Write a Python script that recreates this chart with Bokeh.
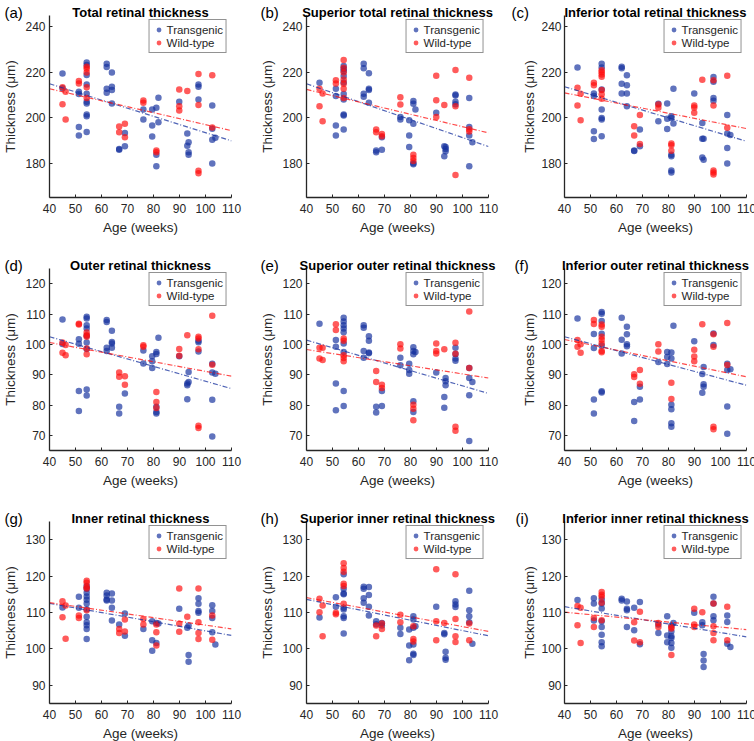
from bokeh.plotting import figure
from bokeh.layouts import column, row
from bokeh.models import Label, ColumnDataSource
from bokeh.embed import file_html
from bokeh.resources import INLINE

AGE_TICKS = [40, 50, 60, 70, 80, 90, 100, 110]
YTICKS_TOTAL = [180, 200, 220, 240]
YTICKS_OUTER = [70, 80, 90, 100, 110, 120]
YTICKS_INNER = [90, 100, 110, 120, 130]

TITLES = ["Total retinal thickness", "Superior total retinal thickness", "Inferior total retinal thickness",
          "Outer retinal thickness", "Superior outer retinal thickness", "Inferior outer retinal thickness",
          "Inner retinal thickness", "Superior inner retinal thickness", "Inferior inner retinal thickness"]
LETTERS = ["(a)", "(b)", "(c)", "(d)", "(e)", "(f)", "(g)", "(h)", "(i)"]

# (age in weeks, thickness in um)
tg_a = [(45,219.5),(45,213),(51.3,211.5),(51.3,210.5),(51.3,196),(51.3,192.2),
        (54.3,224.3),(54.3,223.2),(54.3,218.8),(54.3,214.7),(54.3,210.6),(54.3,207.1),(54.3,206.3),(54.3,201.5),(54.3,200.7),(54.3,193.8),
        (62,223.8),(62,222.4),(62,212.8),(62,211),(64,219.9),(64,213.7),(64,212.2),(64,206.3),
        (66.8,186.3),(66.8,186),(69,193.4),(69,187.5),(76.1,203.7),(76.1,199.3),
        (79.5,203.7),(79.5,196.6),(79.5,191.8),(81.1,204.4),(81.1,183.8),(81.1,178.7),(81.9,208.8),(81.9,198.1),
        (89.9,207.1),(93,193.1),(93,187.8),(93.5,189.3),(93.5,184.9),(93.5,183.8),
        (97.3,214.7),(97.3,213.7),(97.3,208.1),(102.6,205.4),(102.6,195.2),(102.6,190.4),(102.6,180),(103.8,191.3)]
wt_a = [(45,213.5),(45,206),(46.2,211.5),(46.2,199.3),(51.3,216.2),(51.3,215.1),
        (54.3,222.5),(54.3,221.6),(54.3,219.9),(54.3,213.5),(54.3,208.7),
        (66.8,196.2),(66.8,193.7),(69,197.4),(69,191.5),(76.1,207.6),(76.1,206.6),
        (81.1,185.7),(81.1,184.9),(89.9,212.5),(89.9,205.1),(89.9,203.2),(93,211.8),
        (97.3,219.3),(97.3,205.7),(97.3,176.8),(97.3,175.7),(102.6,218.7),(102.6,195.8)]

tg_b = [(45,215.4),(51.3,212.8),(51.3,209.6),(51.3,196.6),(51.3,192.2),
        (54.3,222.8),(54.3,221.5),(54.3,220.6),(54.3,218.4),(54.3,215.5),(54.3,210.5),(54.3,208.1),(54.3,201.5),(54.3,201),(54.3,194.9),
        (62,223.8),(62,221.8),(62,210.6),(62,209.3),(64,219.6),(64,212.8),(64,212.2),(64,206.6),
        (66.8,185.7),(66.8,184.9),(69,191.5),(69,186),(76.1,200.4),(76.1,199.3),
        (79.5,199),(79.5,192.2),(79.5,187.2),(81.1,207.4),(81.1,206.2),(81.1,197.4),(81.1,180.1),(81.1,179.6),(81.9,203.7),
        (89.9,202.2),(93,187.5),(93,183.1),(93.5,187.2),(93.5,186.3),(93.5,185.3),
        (97.3,210.3),(97.3,209.8),(97.3,207.1),(97.3,206),(102.6,208.7),(102.6,196),(102.6,192.2),(102.6,178.7),(103.8,189.3)]
wt_b = [(45,212.8),(45,205.1),(46.2,210.7),(46.2,198.5),(51.3,216.5),(51.3,215.1),
        (54.3,225.4),(54.3,222),(54.3,219.9),(54.3,216.9),(54.3,215),(54.3,212.8),(54.3,208.7),
        (66.8,194.9),(66.8,193.7),(69,192.9),(69,191.9),(76.1,209.1),(76.1,205.9),
        (81.1,183.8),(81.1,182.4),(81.1,181),(89.9,218.5),(89.9,207.8),(89.9,200.4),(93,205.7),
        (97.3,221),(97.3,205.1),(97.3,174.9),(102.6,217.6),(102.6,195),(102.6,194)]

tg_c = [(45,222.1),(51.3,210.7),(51.3,209.6),(51.3,194.1),(51.3,190.7),
        (54.3,223.8),(54.3,222.1),(54.3,212.5),(54.3,203.7),(54.3,200),(54.3,199.3),(54.3,191.9),
        (62,222.5),(62,221.8),(62,215),(62,210.7),(64,218.7),(64,214.3),(64,210.7),(64,205.1),
        (66.8,185.7),(66.8,185.4),(69,194.9),(69,187.5),(76.1,206.2),(76.1,198.5),
        (79.5,206.3),(79.5,199.6),(79.5,195.1),(81.1,200.7),(81.1,200),(81.1,183.8),(81.1,183.1),(81.1,176.9),(81.1,176),
        (81.9,212.8),(81.9,197.5),(89.9,210.7),(93,197.8),(93,190.8),(93,182.6),(93.5,190.8),(93.5,181.6),
        (97.3,218),(97.3,215.9),(97.3,208.7),(97.3,207.5),(102.6,201.3),(102.6,193.1),(102.6,186.8),(102.6,179.9),(103.8,192.5)]
wt_c = [(45,213.2),(45,205.4),(46.2,210.6),(46.2,199),(51.3,215.4),(51.3,214.3),
        (54.3,220.9),(54.3,220.1),(54.3,219.1),(54.3,218.1),(54.3,212.2),(54.3,210.4),(54.3,208.4),
        (66.8,196.3),(66.8,192.2),(69,201.3),(69,188.5),(76.1,205.9),(76.1,204.4),
        (81.1,188.7),(81.1,188),(81.1,185.6),(89.9,205.4),(89.9,204.6),(89.9,202.2),(93,216.8),
        (97.3,216.5),(97.3,205.4),(97.3,176.9),(97.3,176),(97.3,175.1),(102.6,218.5),(102.6,195.7)]

tg_d = [(45,108.2),(45,100.1),(51.3,101.7),(51.3,100.2),(51.3,84.6),(51.3,78),
        (54.3,109.1),(54.3,108.5),(54.3,106.3),(54.3,105.2),(54.3,102.8),(54.3,100.6),(54.3,98.5),(54.3,85.1),(54.3,83.1),
        (62,108),(62,107.4),(62,98.9),(62,97.8),(64,104.5),(64,100.8),(64,100.3),(64,98.9),
        (66.8,79.4),(66.8,77.2),(69,83.8),(76.1,98),(76.1,93.7),
        (79.5,96.1),(79.5,94.4),(79.5,92.2),(81.1,97.5),(81.1,96.8),(81.1,79.4),(81.1,77.7),(81.1,77.2),(81.9,102.2),
        (89.9,96.1),(93,87.1),(93,86.5),(93,81.9),(93.5,90.9),(93.5,87.6),
        (97.3,101.2),(97.3,100.7),(97.3,97.6),(102.6,93.6),(102.6,90.7),(102.6,81.7),(102.6,69.6),(103.8,90.3)]
wt_d = [(45,100.6),(45,97.2),(46.2,99.8),(46.2,96.4),(51.3,106.8),(51.3,106.5),
        (54.3,103.9),(54.3,103),(54.3,102.5),(54.3,98.6),(54.3,96.7),
        (66.8,90.7),(66.8,89.3),(69,89.5),(69,86.7),(76.1,99.7),(76.1,99.2),
        (81.1,84.3),(81.1,81),(81.1,79),(89.9,98.5),(89.9,96.2),(93,103),
        (97.3,102.5),(97.3,101.9),(97.3,98.4),(97.3,73.2),(97.3,72.4),(102.6,109.4),(102.6,93.3)]

tg_e = [(45,106.8),(51.3,101.4),(51.3,99.2),(51.3,87.1),(51.3,78.3),
        (54.3,108.8),(54.3,107.5),(54.3,106.3),(54.3,105.2),(54.3,104),(54.3,100.3),(54.3,97.5),(54.3,84.6),(54.3,79.7),
        (62,106.3),(62,105.5),(62,97.8),(62,95.6),(64,102.7),(64,101.2),(64,97.3),(64,97.1),
        (66.8,79.4),(66.8,77.5),(69,84.6),(69,79.7),(76.1,95.6),(76.1,93.1),
        (79.5,93.6),(79.5,91.5),(79.5,90.3),(81.1,99),(81.1,97.8),(81.1,96.7),(81.1,81.2),(81.1,77.7),(81.9,97.5),
        (89.9,90.7),(93,82.6),(93,79.1),(93.5,88.9),(93.5,87.8),(93.5,86.5),
        (97.3,98.9),(97.3,96.8),(97.3,95.3),(97.3,94.6),(102.6,92.2),(102.6,88.9),(102.6,83.2),(102.6,68.1),(103.8,87.6)]
wt_e = [(45,98.9),(45,95.3),(46.2,98.9),(46.2,94.8),(51.3,106.6),(51.3,104.7),
        (54.3,101.9),(54.3,101.2),(54.3,96.4),(54.3,95.5),(54.3,94.4),
        (66.8,91.2),(66.8,87.6),(69,86.7),(69,85.6),(76.1,100),(76.1,98.6),
        (81.1,80.1),(81.1,78.8),(81.1,75),(89.9,100.3),(89.9,97.8),(89.9,97),(93,98.4),
        (97.3,100.5),(97.3,96.9),(97.3,72.8),(97.3,71.5),(102.6,110.8),(102.6,92.2)]

tg_f = [(45,108.5),(51.3,103.4),(51.3,98.8),(51.3,81.8),(51.3,77.2),
        (54.3,110.7),(54.3,110.1),(54.3,107.7),(54.3,103.5),(54.3,99.5),(54.3,84.5),(54.3,84.1),
        (62,108.8),(62,101.5),(62,97),(64,105.8),(64,103.3),(64,100),(64,99.4),
        (66.8,81),(66.8,74.7),(69,86),(69,81.8),(76.1,94.2),
        (79.5,97.5),(79.5,95.8),(79.5,93.5),(81.1,97.3),(81.1,95.3),(81.1,80.1),(81.1,78.6),(81.1,74),(81.1,72.8),(81.9,106.1),
        (89.9,101),(93,90.2),(93,84),(93.5,92.5),(93.5,86.8),(93.5,86),
        (97.3,103.6),(97.3,99.8),(102.6,93.6),(102.6,91.5),(102.6,79.5),(102.6,70.5),(103.8,91.8)]
wt_f = [(45,101.4),(45,99.2),(46.2,100),(46.2,97.2),(51.3,108),(51.3,106.7),
        (54.3,106.5),(54.3,105.8),(54.3,102.5),(54.3,101.5),(54.3,100.3),(54.3,97.8),(54.3,97.4),
        (66.8,90.1),(66.8,89.2),(69,91.5),(69,87),(76.1,100),(76.1,97.6),
        (81.1,87.3),(81.1,82),(89.9,98.2),(89.9,96),(89.9,94.4),(93,106.6),
        (97.3,103.3),(97.3,99.2),(97.3,72.8),(97.3,72),(102.6,107),(102.6,93.2)]

tg_g = [(45,111.4),(51.3,114.3),(51.3,111.3),
        (54.3,117.3),(54.3,116.5),(54.3,115.4),(54.3,114.4),(54.3,113.5),(54.3,112.5),(54.3,110.9),(54.3,108.8),(54.3,107.3),(54.3,106.5),(54.3,105.5),(54.3,102.7),
        (62,115.4),(62,114.7),(62,113.6),(62,113.3),(64,115.2),(64,113.3),(64,111.3),(64,107.8),
        (66.8,106.7),(69,109.7),(69,103.6),(76.1,105.5),
        (79.5,107.6),(79.5,102.4),(79.5,99.5),(81.1,107.1),(81.1,101.6),(81.9,107),
        (89.9,111),(93,105.8),(93.5,106.4),(93.5,98.3),(93.5,96.5),
        (97.3,113.9),(97.3,112.4),(97.3,110.4),(97.3,109.9),(102.6,112),(102.6,110.4),(102.6,108.5),(102.6,104.6),(103.8,101.2)]
wt_g = [(45,113.1),(45,108.7),(46.2,111.9),(46.2,102.8),(51.3,109.2),(51.3,108.5),
        (54.3,118.7),(54.3,118.2),(54.3,117),(54.3,116.6),(54.3,110.6),
        (66.8,105.5),(66.8,104.4),(69,108.1),(69,104.8),(76.1,108.2),(76.1,106.7),
        (81.1,106.7),(81.1,104.6),(81.1,100.9),(89.9,116.6),(89.9,106.9),(89.9,104.7),(93,108.8),
        (97.3,116.6),(97.3,107.3),(97.3,104.4),(97.3,102.7),(102.6,109.2),(102.6,102.5)]

tg_h = [(45,108.6),(51.3,114.2),(51.3,111.6),
        (54.3,120.5),(54.3,116.5),(54.3,115.2),(54.3,115),(54.3,111.3),(54.3,110.8),(54.3,109),(54.3,108.5),(54.3,104.2),
        (62,117.1),(62,116.5),(62,113.9),(62,112.7),(64,117),(64,114.8),(64,111.6),(64,109.2),
        (66.8,107.6),(66.8,106.8),(69,107.1),(69,106.4),(76.1,105.8),(76.1,104.1),
        (79.5,105.3),(79.5,100.9),(79.5,96.9),(81.1,109),(81.1,108.1),(81.1,105.8),(81.1,101.2),(81.1,98.7),(81.1,98.3),(81.9,106.2),
        (89.9,111.6),(93,104.4),(93,104),(93.5,99.2),(93.5,97.6),(93.5,97),
        (97.3,113.1),(97.3,112.2),(97.3,111.5),(102.6,116),(102.6,110.6),(102.6,109),(102.6,107.3),(103.8,101.4)]
wt_h = [(45,113.8),(45,110.1),(46.2,111.9),(46.2,103.5),(51.3,109.9),(51.3,109.5),
        (54.3,123.5),(54.3,122.2),(54.3,121.2),(54.3,117.9),(54.3,117.3),(54.3,112.4),
        (66.8,106.4),(66.8,103.5),(69,107),(69,105.5),(76.1,109.4),(76.1,107.3),
        (81.1,106.2),(81.1,102.7),(81.1,102),(89.9,121.9),(89.9,107.6),(89.9,102.4),(93,107.1),
        (97.3,120.5),(97.3,108.2),(97.3,103.5),(97.3,101.9),(102.6,107),(102.6,102.4)]

tg_i = [(45,113.4),(51.3,113.9),(51.3,112.5),(51.3,107.8),
        (54.3,113.6),(54.3,112.5),(54.3,111.1),(54.3,107.6),(54.3,106),(54.3,103.9),(54.3,101.8),(54.3,100.7),
        (62,113.8),(62,113.3),(64,113),(64,111),(64,110.6),(64,106),
        (66.8,111.3),(66.8,105.1),(69,112.9),(69,101.3),(76.1,106.7),(76.1,104.4),
        (79.5,109),(79.5,103.7),(79.5,101.8),(81.1,106.4),(81.1,104.8),(81.1,103.5),(81.1,103),(81.1,101.6),(81.1,100.3),(81.9,107.1),
        (89.9,109.9),(93,107.3),(93,106.5),(93.5,98.6),(93.5,96.8),(93.5,95),
        (97.3,114.3),(97.3,112.5),(97.3,109),(97.3,107.9),(102.6,109.2),(102.6,107.4),(102.6,101.4),(103.8,100.5)]
wt_i = [(45,111.8),(45,106.5),(46.2,111.3),(46.2,101.6),(51.3,108.5),(51.3,106),
        (54.3,115.6),(54.3,114.9),(54.3,114.3),(54.3,112.7),(54.3,107.9),
        (66.8,107.3),(66.8,102.3),(69,110.2),(69,101.8),(76.1,107.1),(76.1,106),
        (81.1,106),(81.1,105.6),(81.1,98.3),(89.9,111),(89.9,106.7),(89.9,106),(93,110.1),
        (97.3,112.5),(97.3,106.2),(97.3,104.4),(97.3,102.4),(102.6,111.6),(102.6,102.4)]

# fitted trend lines read at age 40 and 110
LINE_AGES = [40, 110]
tg_fit = [(215.0, 189.9), (215.0, 187.4), (213.7, 189.7),
          (102.5, 85.4), (101.4, 83.8), (102.5, 86.5),
          (112.5, 103.7), (113.6, 103.6), (111.6, 103.3)]
wt_fit = [(212.8, 194.4), (212.5, 193.4), (211.0, 195.3),
          (100.6, 89.5), (98.3, 88.9), (101.6, 89.3),
          (112.7, 105.5), (114.1, 104.8), (110.1, 105.3)]

TG_DATA = [tg_a, tg_b, tg_c, tg_d, tg_e, tg_f, tg_g, tg_h, tg_i]
WT_DATA = [wt_a, wt_b, wt_c, wt_d, wt_e, wt_f, wt_g, wt_h, wt_i]
Y_RANGES = [(165, 245), (65, 125), (85, 135)]
Y_TICKS = [YTICKS_TOTAL, YTICKS_OUTER, YTICKS_INNER]

BLUE = "#15309E"
RED = "#FF0D0D"
INK = "#262626"
FONT = "Liberation Sans"

COL_L = [46, 55, 72]
COL_R = [20, 20, 11]
COL_SHIFT = [0, 0, -16]
ROW_T = [15, 28, 28]
ROW_B = [43, 43, 37]
FRAME = 182
# letter placement: (side panel, x inside that panel)
LETTER_SIDE = ["right", "right", "left"]
LETTER_X = [-227, -228, 9]


def panel(k):
    r, c = divmod(k, 3)
    p = figure(frame_width=FRAME, frame_height=FRAME, title=None,
               x_range=(40, 110), y_range=Y_RANGES[r],
               output_backend="svg", toolbar_location=None,
               min_border_left=COL_L[c], min_border_right=COL_R[c],
               min_border_top=ROW_T[r], min_border_bottom=ROW_B[r],
               margin=(0, 0, 0, COL_SHIFT[c]))
    p.outline_line_color = None
    p.grid.visible = False
    p.background_fill_color = "white"
    p.border_fill_alpha = 0

    tg = TG_DATA[k]
    wt = WT_DATA[k]
    s1 = ColumnDataSource(dict(x=[a for a, _ in tg], y=[v for _, v in tg]))
    s2 = ColumnDataSource(dict(x=[a for a, _ in wt], y=[v for _, v in wt]))
    p.scatter("x", "y", source=s1, size=6.5, fill_color=BLUE, fill_alpha=0.68,
              line_color=None, legend_label="Transgenic")
    p.scatter("x", "y", source=s2, size=6.5, fill_color=RED, fill_alpha=0.68,
              line_color=None, legend_label="Wild-type")
    p.line(LINE_AGES, list(tg_fit[k]), line_color=BLUE, line_alpha=0.75,
           line_width=1.2, line_dash="5 2 1 2")
    p.line(LINE_AGES, list(wt_fit[k]), line_color=RED, line_alpha=0.75,
           line_width=1.2, line_dash="5 2 1 2")

    for ax in (p.xaxis[0], p.yaxis[0]):
        ax.axis_line_color = INK
        ax.axis_line_width = 1.3
        ax.major_tick_line_color = INK
        ax.major_tick_in = 3
        ax.major_tick_out = 0
        ax.minor_tick_line_color = None
        ax.major_label_text_font = FONT
        ax.major_label_text_font_size = "12px"
        ax.major_label_text_color = INK
        ax.axis_label_text_font = FONT
        ax.axis_label_text_font_size = "13.5px"
        ax.axis_label_text_font_style = "normal"
        ax.axis_label_text_color = INK
        ax.major_label_standoff = 4
        ax.axis_label_standoff = 4
    p.xaxis.ticker = AGE_TICKS
    p.yaxis.ticker = Y_TICKS[r]
    p.xaxis.axis_label = "Age (weeks)"
    p.yaxis.axis_label = "Thickness (μm)"
    p.xaxis.major_label_standoff = 6
    if LETTER_SIDE[c] == "left":
        p.yaxis.major_label_standoff = 3
        p.yaxis.axis_label_standoff = 1

    lg = p.legend[0]
    lg.location = "top_right"
    lg.margin = 4
    lg.padding = 3
    lg.spacing = 0
    lg.label_text_font = FONT
    lg.label_text_font_size = "11.5px"
    lg.label_text_color = INK
    lg.label_height = 13
    lg.glyph_height = 13
    lg.glyph_width = 12
    lg.label_standoff = 2
    lg.border_line_color = INK
    lg.border_line_width = 1
    lg.background_fill_alpha = 1

    p.add_layout(Label(x=FRAME / 2, y=3, x_units="screen", y_units="screen",
                       text=TITLES[k], text_align="center", text_baseline="alphabetic",
                       text_font=FONT, text_font_size="13px", text_font_style="bold",
                       text_color="black"), "above")
    p.add_layout(Label(x=LETTER_X[c], y=FRAME + 3, x_units="screen", y_units="screen",
                       text=LETTERS[k], text_align="left", text_baseline="alphabetic",
                       text_font=FONT, text_font_size="15px", text_color="black"),
                 LETTER_SIDE[c])
    return p


figs = [panel(k) for k in range(9)]
layout = column(row(*figs[0:3]), row(*figs[3:6]), row(*figs[6:9]))

with open("out.html", "w") as f:
    f.write(file_html(layout, INLINE))
